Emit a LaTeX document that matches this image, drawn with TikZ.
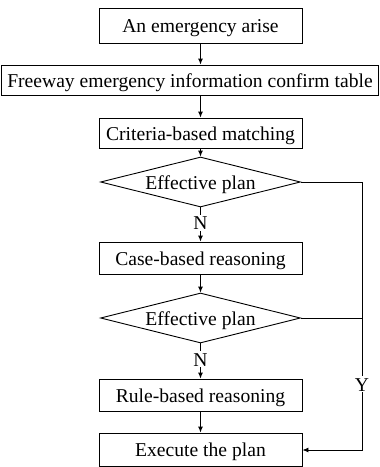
\documentclass[tikz,border=0pt]{standalone}
\usepackage{fontspec}
\setmainfont{Liberation Serif}
\usetikzlibrary{shapes.geometric,arrows.meta}
\begin{document}
\begin{tikzpicture}[x=1pt,y=-1pt,
  every node/.style={font=\fontsize{19.6}{21}\selectfont, inner sep=0pt, text height=14pt, text depth=0pt},
  stepbox/.style={draw, line width=0.9pt, rectangle, minimum width=203pt, minimum height=32pt},
  decision/.style={draw, line width=0.9pt, diamond, aspect=4, minimum width=200pt, minimum height=50pt},
  flow/.style={line width=0.9pt, -{Latex[length=6pt,width=5pt]}},
  link/.style={line width=0.9pt},
  lbl/.style={fill=white, inner sep=1pt}]
\useasboundingbox (0,0) rectangle (380,467);
\node[stepbox, minimum height=35pt] (arise) at (200.5,25.5) {An emergency arise};
\node[stepbox, minimum width=377pt, minimum height=30pt] (table) at (190,80) {Freeway emergency information confirm table};
\node[stepbox, minimum height=30pt] (crit) at (200.5,133) {Criteria-based matching};
\node[decision] (eff1) at (200.5,182) {Effective plan};
\node[stepbox] (case) at (200.5,258) {Case-based reasoning};
\node[decision] (eff2) at (200.5,318) {Effective plan};
\node[stepbox] (rule) at (200.5,395) {Rule-based reasoning};
\node[stepbox, minimum height=33pt] (exec) at (200.5,449.5) {Execute the plan};
\coordinate (c1) at (362,182);
\coordinate (c2) at (362,318);
\coordinate (c3) at (362,450);

\draw[flow] (arise) -- (arise |- table.north);
\draw[flow] (arise |- table.south) -- (crit);
\draw[flow] (crit) -- (eff1);
\draw[flow] (eff1) -- node[lbl, pos=0.45] {N} (case);
\draw[flow] (case) -- (eff2);
\draw[flow] (eff2) -- node[lbl, pos=0.45] {N} (rule);
\draw[flow] (rule) -- (exec);
\draw[link] (eff1.east) -- (c1) -- (c2);
\draw[link] (eff2.east) -- (c2);
\draw[flow] (c2) -- node[lbl, pos=0.5] {Y} (c3) -- (exec.east |- c3);
\end{tikzpicture}
\end{document}
